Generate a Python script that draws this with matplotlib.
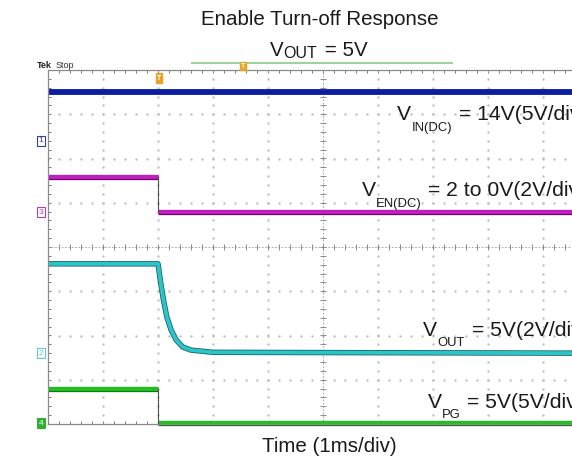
import numpy as np
import matplotlib
matplotlib.use("Agg")
import matplotlib.pyplot as plt
import matplotlib.transforms as mtransforms
import matplotlib.patheffects as pe

plt.rcParams['font.family'] = ['Liberation Sans', 'DejaVu Sans']

# ---- data (screen divisions, time in ms) ----
step_t = 2.0
t_end = 10.0
vin_t = [0.0, t_end]
vin_div = [3.50, 3.50]
en_high_t = [0.0, step_t]
en_high = [1.58, 1.58]
en_low_t = [step_t, t_end]
en_low = [0.79, 0.79]
vout_t = [0.0, 2.0, 2.05, 2.10, 2.16, 2.24, 2.33, 2.45, 2.60, 3.0, 10.0]
vout_div = [-0.38, -0.38, -0.82, -1.20, -1.58, -1.88, -2.10, -2.26, -2.33, -2.38, -2.40]
pg_high_t = [0.0, step_t]
pg_high = [-3.21, -3.21]
pg_low_t = [step_t, t_end]
pg_low = [-3.97, -3.97]
ch_labels = ['1', '3', '2', '4']
ch_levels = [2.40, 0.79, -2.40, -3.98]

W, H = 572, 466
fig = plt.figure(figsize=(W / 100, H / 100), dpi=100)
fig.patch.set_facecolor('white')

def fx(x):
    return x / W

def fy(y):
    return 1 - y / H

top_px, bot_px, left_px = 70, 424, 48
ax = fig.add_axes([fx(left_px), fy(bot_px), 550 / W, (bot_px - top_px) / H])
ax.set_xlim(0, 10)
ax.set_ylim(-4, 4)
ax.set_facecolor('white')
for s in ax.spines.values():
    s.set_color('#8a8a8a')
    s.set_linewidth(0.9)

ax.set_xticks(np.arange(0, 10.01, 0.2))
ax.set_yticks(np.arange(-4, 4.01, 0.2))
ax.tick_params(direction='in', length=2.5, width=0.7, color='#7a7a7a',
               top=True, bottom=True, left=True, right=True,
               labelbottom=False, labelleft=False)

grid_c = '#c0c0c0'
dots_x = np.arange(0, 10.01, 0.2)
dots_y = np.arange(-4, 4.01, 0.2)
for gy in range(-3, 4):
    if gy == 0:
        continue
    ax.plot(dots_x, np.full_like(dots_x, gy), ls='none', marker='.', ms=1.5, color=grid_c)
for gx in range(1, 10):
    if gx == 5:
        continue
    ax.plot(np.full_like(dots_y, gx), dots_y, ls='none', marker='.', ms=1.5, color=grid_c)
# center cross with ticks
ax.axhline(0, color='#9a9a9a', lw=0.6, ls=(0, (2, 2)))
ax.axvline(5, color='#9a9a9a', lw=0.6, ls=(0, (2, 2)))
ax.plot(dots_x, np.zeros_like(dots_x), ls='none', marker='|', ms=4, mew=0.7, color='#8a8a8a')
ax.plot(np.full_like(dots_y, 5), dots_y, ls='none', marker='_', ms=4, mew=0.7, color='#8a8a8a')

# traces
ax.plot(vin_t, vin_div, color='#0b1f9e', lw=4.2, solid_capstyle='butt', clip_on=False)
edge = [pe.Stroke(linewidth=3.8, foreground='#6a006a'), pe.Normal()]
ax.plot(en_high_t, en_high, color='#c020c0', lw=2.8, solid_capstyle='butt', path_effects=edge)
ax.plot(en_low_t, en_low, color='#c020c0', lw=2.8, solid_capstyle='butt', path_effects=edge)
ax.plot([step_t, step_t], [en_high[-1], en_low[0]], color='#505050', lw=0.8)
ax.plot(vout_t, vout_div, color='#2cc4c8', lw=2.8, solid_capstyle='butt',
        path_effects=[pe.Stroke(linewidth=3.9, foreground='#0e5e62'), pe.Normal()])
edge_g = [pe.Stroke(linewidth=3.8, foreground='#0a7a0a'), pe.Normal()]
ax.plot(pg_high_t, pg_high, color='#22c022', lw=2.8, solid_capstyle='butt', path_effects=edge_g)
ax.plot(pg_low_t, pg_low, color='#22c022', lw=2.8, solid_capstyle='butt', path_effects=edge_g, clip_on=False)
ax.plot([step_t, step_t], [pg_high[-1], pg_low[0]], color='#505050', lw=0.8)

# channel markers
tr = mtransforms.blended_transform_factory(fig.transFigure, ax.transData)
ch_style = {
    '1': dict(fc='white', ec='#3040a0', tc='#3040a0'),
    '3': dict(fc='white', ec='#b040b0', tc='#b040b0'),
    '2': dict(fc='white', ec='#60c8d0', tc='#60c8d0'),
    '4': dict(fc='#30b030', ec='#30b030', tc='white'),
}
for lab, lev in zip(ch_labels, ch_levels):
    st = ch_style[lab]
    ax.text(fx(41), lev, lab, transform=tr, fontsize=6, color=st['tc'], ha='center', va='center',
            bbox=dict(boxstyle='square,pad=0.15', fc=st['fc'], ec=st['ec'], lw=0.8), clip_on=False)

# Tek Stop
fig.text(fx(37), fy(68), 'Tek', fontsize=6.5, fontweight='bold', color='#202020', va='baseline')
fig.text(fx(56), fy(68), 'Stop', fontsize=6.5, color='#303030', va='baseline')

# trigger / horizontal position markers
fig.lines.append(plt.Line2D([fx(192), fx(452)], [fy(63), fy(63)], color='#9ad49a', lw=1.4,
                            transform=fig.transFigure))
fig.text(fx(243), fy(66), 'T', fontsize=5, color='white', ha='center', va='center', fontweight='bold',
         bbox=dict(boxstyle='square,pad=0.12', fc='#e8a628', ec='#e8a628'))
fig.text(fx(159), fy(78), 'T', fontsize=5, color='white', ha='center', va='center', fontweight='bold',
         bbox=dict(boxstyle='square,pad=0.15', fc='#e8a628', ec='#e8a628'))

# titles
fig.text(fx(320), fy(25), 'Enable Turn-off Response', fontsize=14.8, ha='center', va='baseline', color='#1a1a1a')
fig.text(fx(270), fy(56), 'V', fontsize=14.8, va='baseline', color='#1a1a1a')
fig.text(fx(283), fy(57.5), 'OUT', fontsize=11.5, va='baseline', color='#1a1a1a')
fig.text(fx(319), fy(56), ' = 5V', fontsize=14.8, va='baseline', color='#1a1a1a')
fig.text(fx(329), fy(452), 'Time (1ms/div)', fontsize=14.8, ha='center', va='baseline', color='#1a1a1a')

# annotations
def ann(xv, yb, sub, xs, ys, rest, xr):
    fig.text(fx(xv), fy(yb), 'V', fontsize=15.2, va='baseline', color='#1a1a1a')
    fig.text(fx(xs), fy(ys), sub, fontsize=9.4, va='baseline', color='#1a1a1a')
    fig.text(fx(xr), fy(yb), rest, fontsize=15.2, va='baseline', color='#1a1a1a')

ann(397, 120, 'IN(DC)', 412, 131, '= 14V(5V/div)', 459)
ann(362, 196, 'EN(DC)', 376, 207, '= 2 to 0V(2V/div)', 428)
ann(423, 336, 'OUT', 437, 346, '= 5V(2V/div)', 472)
ann(428, 408, 'PG', 442, 418, '= 5V(5V/div)', 467)

fig.savefig('out.png', dpi=100)
